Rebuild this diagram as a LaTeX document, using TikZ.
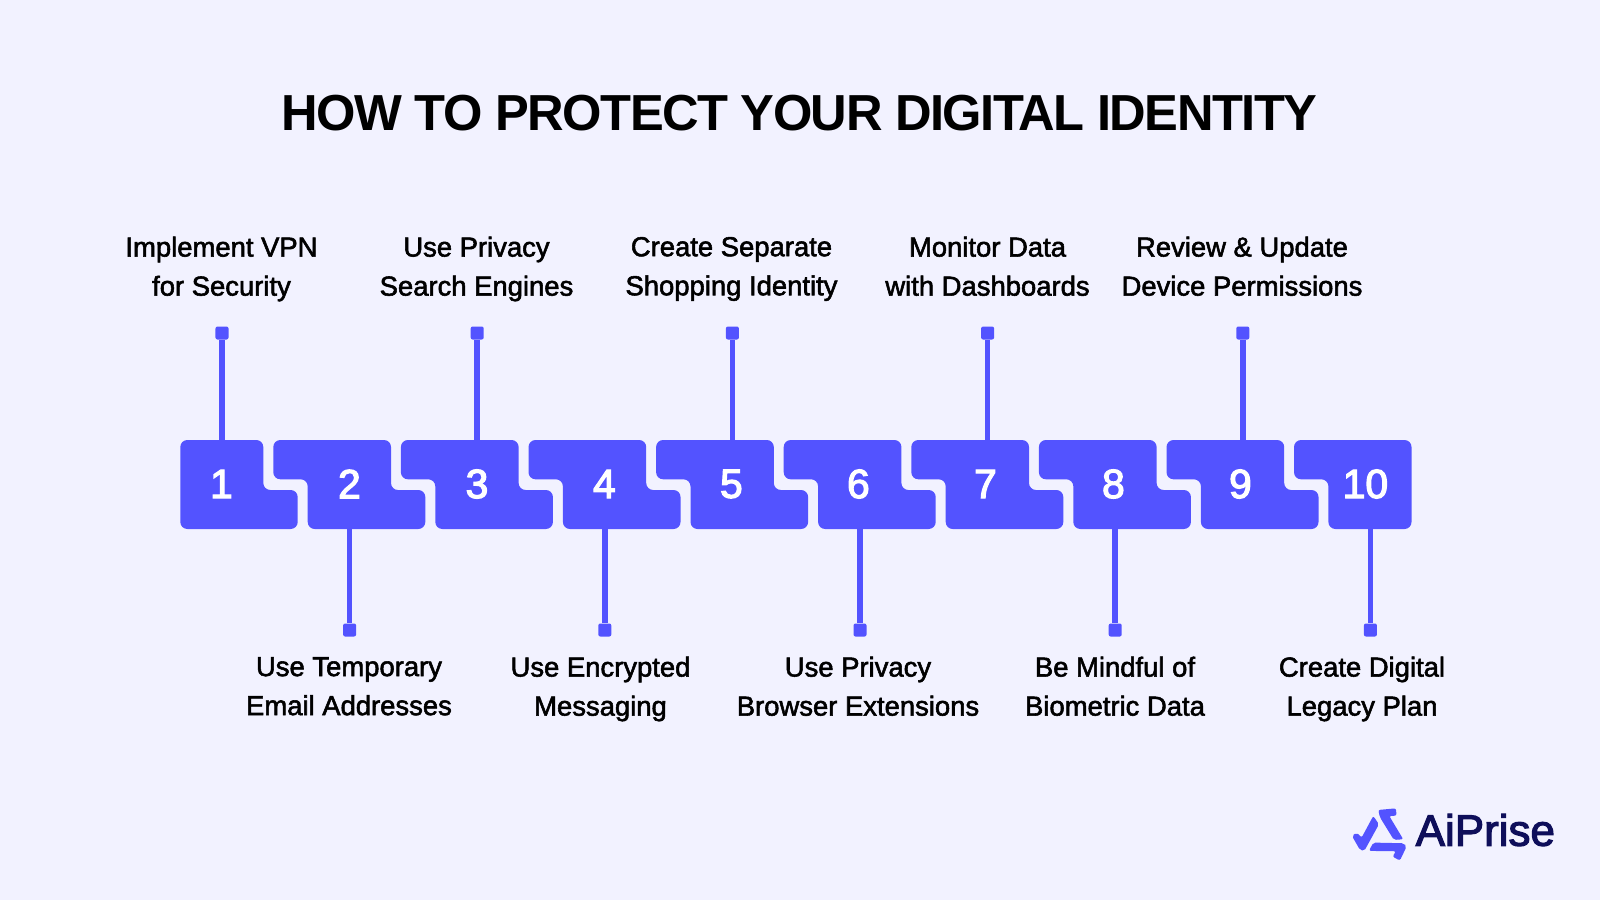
\documentclass[tikz,border=0pt]{standalone}
\usepackage{fontspec}
\usepackage{tikz}
\usetikzlibrary{positioning}
\setmainfont{Liberation Sans}
\newfontfamily\medfont[RawFeature={embolden=2}]{Liberation Sans}
\newfontfamily\numfont[RawFeature={embolden=3}]{Liberation Sans}
\newfontfamily\brandfont[RawFeature={embolden=2.6}]{Liberation Sans}
\newfontfamily\headfont[LetterSpace=-3]{Liberation Sans Bold}
\definecolor{bgcol}{HTML}{F2F2FF}
\definecolor{blockcol}{HTML}{5353FF}
\definecolor{navycol}{HTML}{0E0E5A}
\tikzset{>=stealth,
  block/.style={fill=blockcol,rounded corners=0.07cm},
  num/.style={text=white,font=\numfont\fontsize{11.6}{14}\selectfont,inner sep=0pt},
  pin/.style={fill=blockcol,rounded corners=0.02cm,minimum size=0.13cm,inner sep=0pt},
  stem/.style={draw=blockcol,line width=0.055cm},
  lbl/.style={text=black,align=center,inner sep=0pt,font=\medfont\fontsize{7.8}{11.1}\selectfont,
    execute at begin node=\strut,execute at end node=\strut},
}
% one block, #1 = left end of its lower part
\newcommand{\midblock}[1]{
  \fill[block,shift={(#1,0)}] (-34.4,440) -- (-34.4,479.3) -- (0,479.3) -- (0,529) -- (117.6,529)
    -- (117.6,490) -- (83.3,490) -- (83.3,440) -- cycle;
}
\begin{document}
\begin{tikzpicture}[x=0.01cm,y=-0.01cm]
  \fill[bgcol] (0,0) rectangle (1600,900);
  \useasboundingbox (0,0) rectangle (1600,900);

  \node[text=black,inner sep=0pt,font=\headfont\fontsize{14.4}{17}\selectfont] (title) at (799.5,113) {HOW TO PROTECT YOUR DIGITAL IDENTITY};

  % blocks
  \fill[block] (180.3,440) -- (180.3,529) -- (297.7,529) -- (297.7,490) -- (263.3,490) -- (263.3,440) -- cycle;
  \midblock{307.7}
  \midblock{435.3}
  \midblock{562.9}
  \midblock{690.5}
  \midblock{818.1}
  \midblock{945.7}
  \midblock{1073.3}
  \midblock{1200.9}
  \fill[block] (1294,440) -- (1294,479.3) -- (1328.4,479.3) -- (1328.4,529) -- (1411.5,529) -- (1411.5,440) -- cycle;

  \node[num] (n1) at (221.5,484) {1};
  \node[num] (n2) at (349.4,484) {2};
  \node[num] (n3) at (477,484) {3};
  \node[num] (n4) at (604.4,484) {4};
  \node[num] (n5) at (731.4,484) {5};
  \node[num] (n6) at (858.4,484) {6};
  \node[num] (n7) at (985.4,484) {7};
  \node[num] (n8) at (1113.4,484) {8};
  \node[num] (n9) at (1240.4,484) {9};
  \node[num] (n10) at (1365.4,484) {10};

  % ends of the stems on the blocks
  \coordinate (e1) at (222,441);
  \coordinate (e2) at (349.6,528);
  \coordinate (e3) at (477.2,441);
  \coordinate (e4) at (604.8,528);
  \coordinate (e5) at (732.4,441);
  \coordinate (e6) at (860,528);
  \coordinate (e7) at (987.6,441);
  \coordinate (e8) at (1115.2,528);
  \coordinate (e9) at (1242.8,441);
  \coordinate (e10) at (1370.4,528);

  \node[pin] (p1) at (222,333) {};
  \node[pin] (p2) at (349.6,630) {};
  \node[pin] (p3) at (477.2,333) {};
  \node[pin] (p4) at (604.8,630) {};
  \node[pin] (p5) at (732.4,333) {};
  \node[pin] (p6) at (860,630) {};
  \node[pin] (p7) at (987.6,333) {};
  \node[pin] (p8) at (1115.2,630) {};
  \node[pin] (p9) at (1242.8,333) {};
  \node[pin] (p10) at (1370.4,630) {};

  \draw[stem] (e1)--(p1);
  \draw[stem] (e2)--(p2);
  \draw[stem] (e3)--(p3);
  \draw[stem] (e4)--(p4);
  \draw[stem] (e5)--(p5);
  \draw[stem] (e6)--(p6);
  \draw[stem] (e7)--(p7);
  \draw[stem] (e8)--(p8);
  \draw[stem] (e9)--(p9);
  \draw[stem] (e10)--(p10);

  \node[lbl] (l1) at (221.5,272) {Implement VPN\\for Security};
  \node[lbl] (l2) at (349,692) {Use Temporary\\Email Addresses};
  \node[lbl] (l3) at (476.5,272) {Use Privacy\\Search Engines};
  \node[lbl] (l4) at (600.5,692) {Use Encrypted\\Messaging};
  \node[lbl] (l5) at (731.5,272) {Create Separate\\Shopping Identity};
  \node[lbl] (l6) at (858,692) {Use Privacy\\Browser Extensions};
  \node[lbl] (l7) at (987.5,272) {Monitor Data\\with Dashboards};
  \node[lbl] (l8) at (1115,692) {Be Mindful of\\Biometric Data};
  \node[lbl] (l9) at (1242,272) {Review \& Update\\Device Permissions};
  \node[lbl] (l10) at (1362,692) {Create Digital\\Legacy Plan};

  % logo
  \begin{scope}[shift={(1330,790)},x=0.00333cm,y=-0.00333cm]
    \fill[blockcol,rounded corners=0.02cm] (145,60) -- (198,55) -- (200,77) -- (178,78) -- (220,148) -- (192,150) -- (150,82) -- cycle;
    \fill[blockcol,rounded corners=0.02cm] (66,138) -- (80,128) -- (95,143) -- (130,78) -- (147,103) -- (103,183) -- (90,180) -- cycle;
    \fill[blockcol,rounded corners=0.02cm] (117,183) -- (130,158) -- (222,160) -- (230,170) -- (210,212) -- (188,200) -- (198,184) -- cycle;
  \end{scope}
  \node[text=navycol,inner sep=0pt,anchor=west,font=\brandfont\fontsize{12.5}{15}\selectfont] (brand) at (1415,830) {AiPrise};
\end{tikzpicture}
\end{document}
